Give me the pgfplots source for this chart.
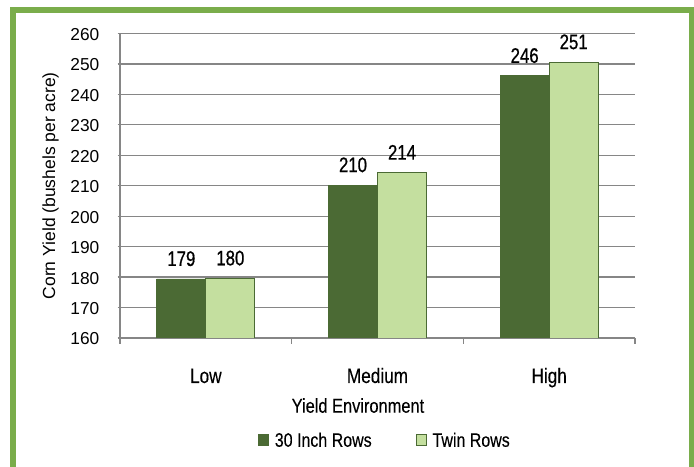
\documentclass[border=0pt]{standalone}
\usepackage{fontspec}
\setmainfont{Liberation Sans}
\newfontfamily\narrow{Liberation Sans}[FakeStretch=0.82, FakeBold=0.15]
\newfontfamily\narrowb{Liberation Sans}[FakeStretch=0.8, FakeBold=0.7]
\usepackage{pgfplots}
\pgfplotsset{compat=1.18}
\definecolor{framec}{RGB}{122,173,75}
\definecolor{darkg}{RGB}{75,106,52}
\definecolor{lightg}{RGB}{196,223,159}
\definecolor{gridg}{RGB}{134,134,134}
\begin{document}
\begin{tikzpicture}[x=1bp,y=1bp]
\useasboundingbox (0,0) rectangle (694,467);
\fill[white] (0,0) rectangle (694,467);
\draw[framec, line width=6bp] (13,-10) -- (13,457);
\draw[framec, line width=6bp] (10,457) -- (694,457);
\draw[framec, line width=5bp] (691.5,-10) -- (691.5,460);
\begin{axis}[
  at={(120bp,129bp)}, anchor=south west,
  width=515bp, height=304.5bp, scale only axis,
  ymin=160, ymax=260, ytick={160,170,...,260},
  xmin=-0.5, xmax=2.5,
  xtick={0,1,2}, xticklabels={Low,Medium,High},
  minor xtick={-0.5,0.5,1.5,2.5},
  major x tick style={draw=none},
  minor x tick style={gridg, line width=1.2bp},
  minor tick length=6bp, major tick length=5bp,
  tick align=outside,
  axis lines=left, axis line style={-, gridg, line width=1.2bp},
  ymajorgrids, grid style={gridg, line width=1.2bp},
  ytick style={gridg, line width=1.2bp},
  /pgf/number format/assume math mode=true,
  yticklabel style={font=\fontsize{17.3bp}{19bp}\selectfont, anchor=east, inner sep=0pt, xshift=-18bp, yshift=-1bp},
  xticklabel style={font=\narrow\fontsize{21bp}{23bp}\selectfont, anchor=base, yshift=-40bp},
  ylabel={Corn Yield (bushels per acre)},
  ylabel style={font=\fontsize{17.5bp}{19bp}\selectfont, at={(axis description cs:-0.126,0.5)}, anchor=base},
  xlabel={Yield Environment},
  xlabel style={font=\narrow\fontsize{20bp}{22bp}\selectfont, at={(axis description cs:0.462,-0.2453)}, anchor=base},
  ybar=0pt, bar width=49bp,
  nodes near coords={\pgfmathprintnumber[fixed,precision=0,assume math mode=true]{\pgfplotspointmeta}},
  every node near coord/.append style={font=\narrowb\fontsize{21bp}{23bp}\selectfont, anchor=base, yshift=13bp, text=black},
  legend columns=2,
  legend cell align=left,
  legend style={at={(axis description cs:0.268,-0.334)}, anchor=west, draw=none, fill=none, inner sep=0pt, outer sep=0pt,
    font=\narrow\fontsize{19.5bp}{21bp}\selectfont,
    nodes={inner sep=0pt, text depth=0pt},
    /tikz/every odd column/.append style={column sep=6bp},
    /tikz/every even column/.append style={column sep=44bp}},
  legend image code/.code={\draw[#1, line width=0.8bp] (0bp,-5.5bp) rectangle (10bp,5.5bp);},
]
\addplot[fill=darkg, draw=darkg, line width=0.8bp] coordinates {(0,179.4) (1,210.2) (2,246.1)};
\addplot[fill=lightg, draw=darkg, line width=0.8bp] coordinates {(0,179.6) (1,214.3) (2,250.6)};
\legend{30 Inch Rows, Twin Rows}
\end{axis}
\end{tikzpicture}
\end{document}
